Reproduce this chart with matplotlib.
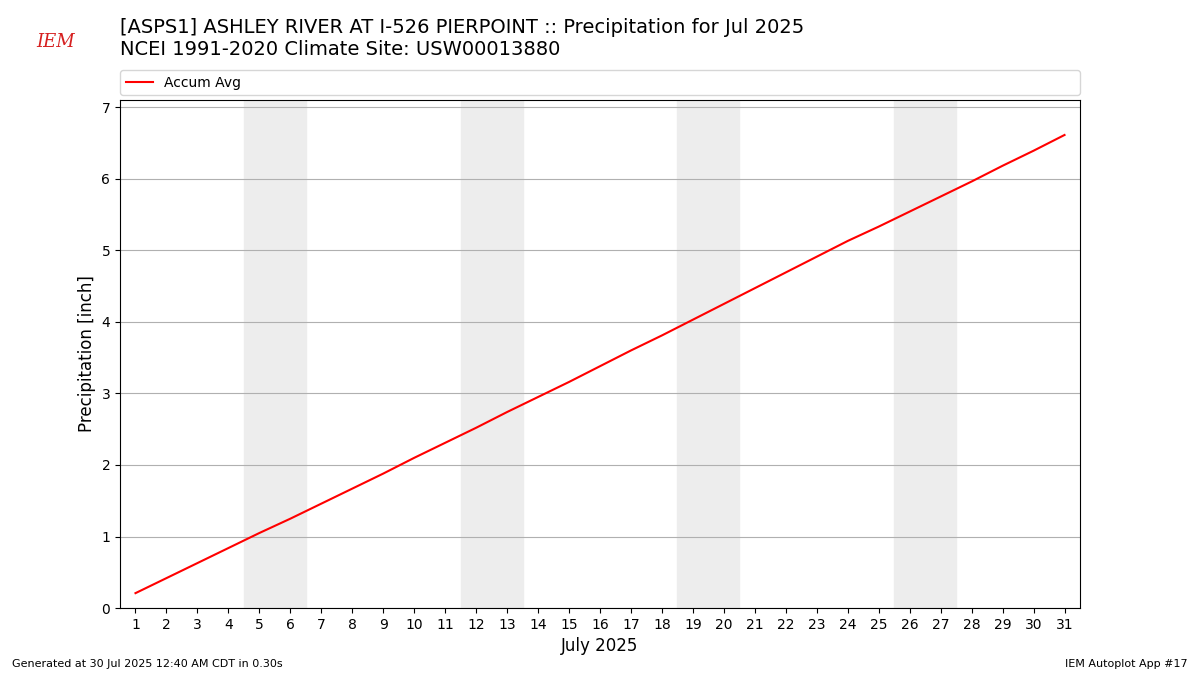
import matplotlib
matplotlib.use("Agg")
import matplotlib.pyplot as plt

days = list(range(1, 32))
accum_avg = [0.21, 0.42, 0.63, 0.84, 1.05, 1.25, 1.46, 1.67, 1.88, 2.10, 2.31, 2.52, 2.74, 2.95,
             3.16, 3.38, 3.60, 3.81, 4.03, 4.25, 4.47, 4.69, 4.91, 5.13, 5.33, 5.54, 5.75, 5.96,
             6.18, 6.39, 6.61]
weekends = [(5, 6), (12, 13), (19, 20), (26, 27)]

fig = plt.figure(figsize=(12, 6.75), dpi=100)
ax = fig.add_axes([0.1, 0.099, 0.8, 0.753])
for a, b in weekends:
    ax.axvspan(a - 0.5, b + 0.5, color="#ededed", zorder=0)
line, = ax.plot(days, accum_avg, color="red", lw=1.5, label="Accum Avg", zorder=3)
ax.set_xlim(0.5, 31.5)
ax.set_ylim(0, 7.1)
ax.set_xticks(days)
ax.grid(axis="y", color="#b0b0b0", lw=0.8)
ax.set_axisbelow(True)
ax.set_xlabel("July 2025", fontsize=12)
ax.set_ylabel("Precipitation [inch]", fontsize=12)

fig.legend(handles=[line], loc="lower left", bbox_to_anchor=(0.1, 0.859, 0.8, 0.037),
           mode="expand", ncol=1, fontsize=10, borderaxespad=0)

fig.text(0.1, 0.945, "[ASPS1] ASHLEY RIVER AT I-526 PIERPOINT :: Precipitation for Jul 2025",
         fontsize=14, va="bottom")
fig.text(0.1, 0.912, "NCEI 1991-2020 Climate Site: USW00013880", fontsize=14, va="bottom")
fig.text(0.01, 0.012, "Generated at 30 Jul 2025 12:40 AM CDT in 0.30s", fontsize=8)
fig.text(0.99, 0.012, "IEM Autoplot App #17", fontsize=8, ha="right")
fig.text(0.03, 0.93, "IEM", fontsize=13, color="#d62020", style="italic", family="DejaVu Serif")
fig.savefig("out.png")
